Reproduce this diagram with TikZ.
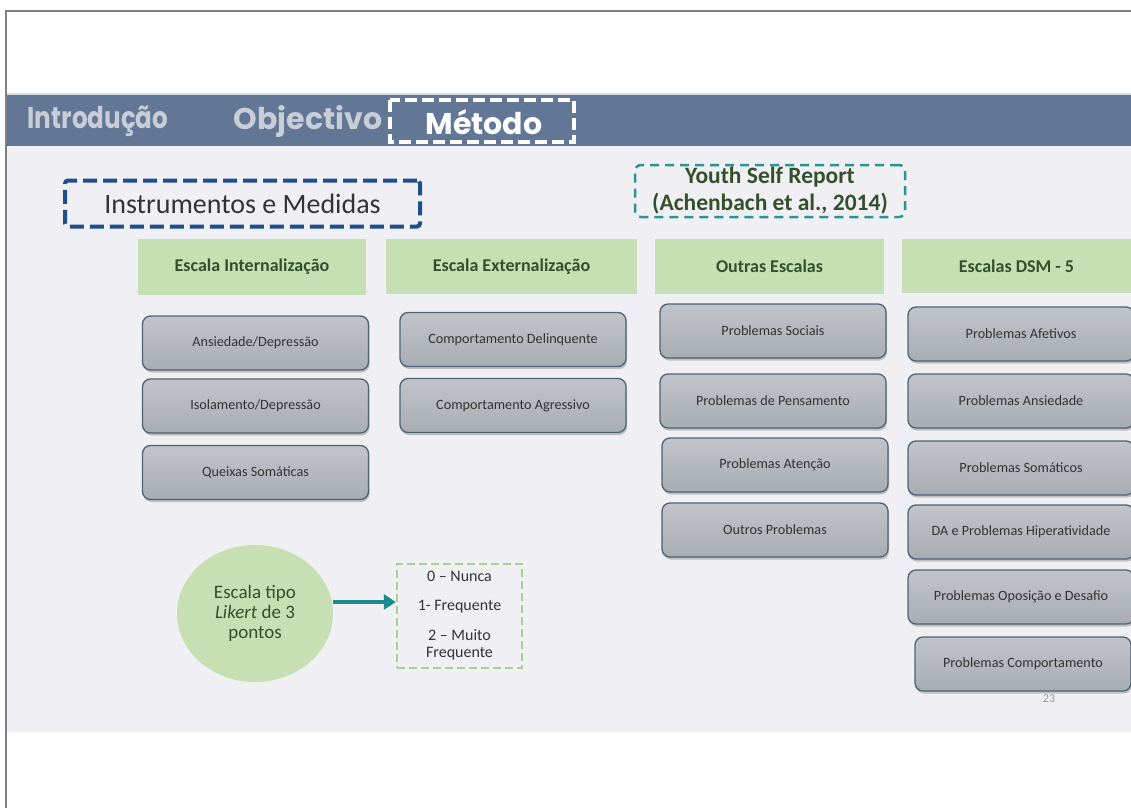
\documentclass[tikz,border=0pt]{standalone}
\usepackage{fontspec}
\usepackage{graphicx}
\setmainfont{Carlito}
\newfontfamily\headfont{Poppins}
\usetikzlibrary{arrows.meta,shadows,shapes.geometric}
\definecolor{band}{HTML}{627795}
\definecolor{headgray}{HTML}{C9CDD8}
\definecolor{slidebg}{HTML}{F0F0F4}
\definecolor{lgreen}{HTML}{C6E0B4}
\definecolor{dgreen}{HTML}{34502A}
\definecolor{boxedge}{HTML}{4F6270}
\definecolor{boxtop}{HTML}{C1C4CA}
\definecolor{boxbot}{HTML}{A8ACB3}
\definecolor{navy}{HTML}{1F4E8C}
\definecolor{teal}{HTML}{2A9494}
\definecolor{arrowteal}{HTML}{1E8A8A}
\definecolor{dashgreen}{HTML}{A9D08E}
\definecolor{txt}{HTML}{333333}
\tikzset{
  gbox/.style={draw=boxedge, line width=1.3pt, rounded corners=8pt,
    top color=boxtop, bottom color=boxbot, minimum width=226pt, minimum height=54pt,
    font=\fontsize{14.2}{17}\selectfont, text=txt,
    drop shadow={shadow xshift=1pt, shadow yshift=-2.5pt, opacity=0.35, fill=black!60}},
  ghead/.style={fill=lgreen, inner sep=0pt, font=\fontsize{18}{21}\selectfont\bfseries, text=dgreen},
  headtxt/.style={font=\headfont\fontsize{30}{33}\selectfont\bfseries, text=headgray, anchor=center, inner sep=0pt},
  sctxt/.style={text=txt, font=\fontsize{16}{17.5}\selectfont, align=center},
}
\begin{document}
\begin{tikzpicture}[x=1pt,y=-1pt]
\useasboundingbox (0,0) rectangle (1131,808);
\fill[white] (0,0) rectangle (1131,808);
% slide frame
\fill[slidebg] (7,145) rectangle (1131,732);
\fill[band] (7,93) rectangle (1131,146);
\fill[white!75!band] (7,93) rectangle (1131,95);
\draw[gray, line width=2pt] (6,808) -- (6,11) -- (1131,11);
% header
\node[headtxt] (intro) at (98,121) {\scalebox{0.82}[1]{Introdução}};
\node[headtxt] (obj) at (308,121) {Objectivo};
\node[headtxt, text=white] (met) at (484,122) {Método};
\draw[white, line width=3.5pt, dash pattern=on 12pt off 5pt] (390,100) rectangle (574,142);
% instrumentos
\node[draw=navy, line width=4pt, dash pattern=on 14pt off 6pt, rounded corners=3pt,
  minimum width=355pt, minimum height=46pt, font=\fontsize{28}{30}\selectfont, text=txt] (instr) at (242.5,203.5) {Instrumentos e Medidas};
% youth
\node[draw=teal, line width=2.5pt, dash pattern=on 9pt off 6pt, rounded corners=6pt,
  minimum width=270pt, minimum height=52pt, inner sep=0pt, align=center, font=\fontsize{23.5}{27}\selectfont\bfseries, text=dgreen] (ysr) at (770,191) {Youth Self Report\\(Achenbach et al., 2014)};
% green headers
\node[ghead, minimum width=228pt, minimum height=56pt] (h1) at (252,267) {Escala Internalização};
\node[ghead, minimum width=251pt, minimum height=55pt] (h2) at (511.5,266.5) {Escala Externalização};
\node[ghead, minimum width=229pt, minimum height=55pt] (h3) at (769.5,266.5) {Outras Escalas};
\node[ghead, minimum width=229pt, minimum height=54pt] (h4) at (1016.5,266) {Escalas DSM - 5};
% column 1
\node[gbox] (a1) at (255.5,343) {Ansiedade/Depressão};
\node[gbox] (a2) at (255.5,406) {Isolamento/Depressão};
\node[gbox] (a3) at (255.5,472.5) {Queixas Somáticas};
% column 2
\node[gbox] (b1) at (513,339.5) {Comportamento Delinquente};
\node[gbox] (b2) at (513,405.5) {Comportamento Agressivo};
% column 3
\node[gbox] (c1) at (773,331) {Problemas Sociais};
\node[gbox] (c2) at (773,401) {Problemas de Pensamento};
\node[gbox] (c3) at (775,465) {Problemas Atenção};
\node[gbox] (c4) at (775,530) {Outros Problemas};
% column 4
\node[gbox] (d1) at (1021,334) {Problemas Afetivos};
\node[gbox] (d2) at (1021,401) {Problemas Ansiedade};
\node[gbox] (d3) at (1021,468) {Problemas Somáticos};
\node[gbox] (d4) at (1021,532) {DA e Problemas Hiperatividade};
\node[gbox] (d5) at (1021,597) {Problemas Oposição e Desafio};
\node[gbox, minimum width=216pt] (d6) at (1023,664) {Problemas Comportamento};
% page number
\node[text=gray!80, font=\fontsize{12}{14}\selectfont] (pg) at (1049,699) {23};
% likert
\node[ellipse, fill=lgreen, minimum width=156pt, minimum height=137pt, inner sep=0pt] (circ) at (255,613.5) {};
\node[align=center, text=dgreen, font=\fontsize{19}{20}\selectfont] (circtxt) at (255,613) {Escala tipo\\\textit{Likert} de 3\\pontos};
\node[draw=dashgreen, line width=2.5pt, dash pattern=on 8pt off 4pt, minimum width=125pt, minimum height=104pt] (scale) at (459.5,616) {};
\node[sctxt] (s0) at (459.5,576) {0 -- Nunca};
\node[sctxt] (s1) at (459.5,607) {1- Frequente};
\node[sctxt] (s2) at (459.5,645) {2 -- Muito\\Frequente};
\draw[arrowteal, line width=4pt, -{Triangle[length=12pt,width=15pt]}] (circ.east |- 0,602) -- (scale.west |- 0,602);
\end{tikzpicture}
\end{document}
